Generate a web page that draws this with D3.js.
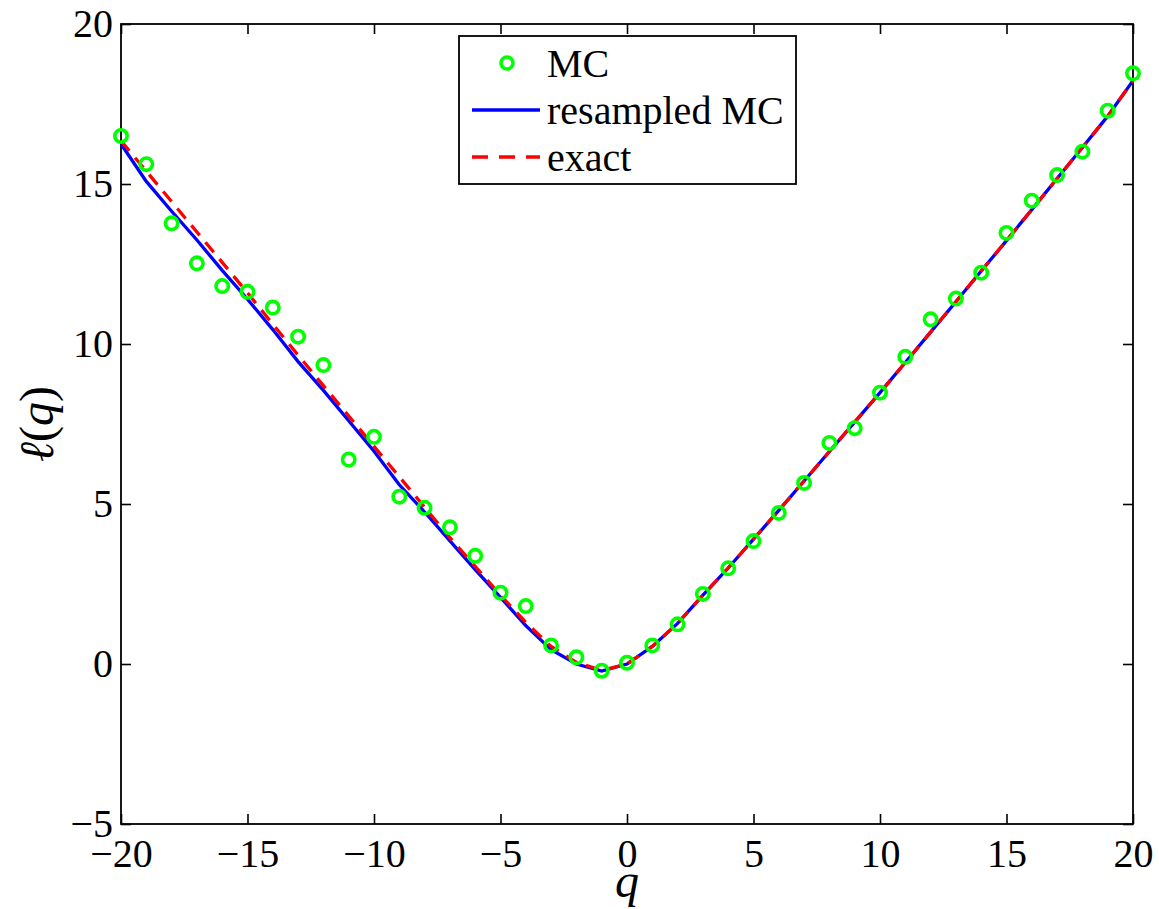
<!DOCTYPE html>
<html>
<head>
<meta charset="utf-8">
<script src="https://cdn.jsdelivr.net/npm/d3@7"></script>
<style>
  body { margin: 0; background: #fff; }
</style>
</head>
<body>
<div id="chart"></div>
<script>
// q grid and the three series
const qValues = [-20, -19, -18, -17, -16, -15, -14, -13, -12, -11, -10, -9, -8, -7, -6, -5, -4, -3, -2, -1,
  0, 1, 2, 3, 4, 5, 6, 7, 8, 9, 10, 11, 12, 13, 14, 15, 16, 17, 18, 19, 20];

const mcValues = [16.5, 15.62, 13.77, 12.52, 11.81, 11.63, 11.14, 10.23, 9.34, 6.39, 7.1, 5.23, 4.88, 4.27, 3.38, 2.23, 1.81, 0.58, 0.21, -0.21,
  0.04, 0.58, 1.24, 2.19, 2.99, 3.84, 4.72, 5.66, 6.91, 7.37, 8.48, 9.6, 10.77, 11.42, 12.23, 13.47, 14.48, 15.28, 16.01, 17.29, 18.46];

const resampledValues = [16.25, 15.08, 14.15, 13.25, 12.3, 11.4, 10.45, 9.45, 8.55, 7.6, 6.65, 5.6, 4.75, 3.85, 2.95, 2.08, 1.2, 0.45, 0.0, -0.22,
  0.0, 0.55, 1.27, 2.15, 3.0, 3.9, 4.8, 5.72, 6.64, 7.56, 8.48, 9.42, 10.37, 11.32, 12.28, 13.23, 14.2, 15.17, 16.14, 17.12, 18.23];

const exactValues = [16.35, 15.4, 14.45, 13.5, 12.55, 11.6, 10.62, 9.65, 8.7, 7.75, 6.8, 5.85, 4.9, 3.95, 3.05, 2.15, 1.3, 0.55, 0.05, -0.2,
  0.0, 0.55, 1.27, 2.15, 3.0, 3.9, 4.8, 5.72, 6.64, 7.56, 8.48, 9.42, 10.37, 11.32, 12.28, 13.23, 14.2, 15.17, 16.14, 17.12, 18.23];

const xTicks = [-20, -15, -10, -5, 0, 5, 10, 15, 20];
const yTicks = [-5, 0, 5, 10, 15, 20];
const legendLabels = ["MC", "resampled MC", "exact"];

const W = 1159, H = 909;
const margin = { top: 24, right: 26, bottom: 85, left: 121 };
const serif = "Liberation Serif";

const svg = d3.select("#chart").append("svg")
  .attr("width", W)
  .attr("height", H);

const x = d3.scaleLinear().domain([-20, 20]).range([margin.left, W - margin.right]);
const y = d3.scaleLinear().domain([-5, 20]).range([H - margin.bottom, margin.top]);

// axes, ticks pointing inward on all four sides
svg.append("g")
  .attr("transform", `translate(0,${y(-5)})`)
  .call(d3.axisBottom(x).tickValues(xTicks).tickSize(-10).tickPadding(15));
svg.append("g")
  .attr("transform", `translate(${x(-20)},0)`)
  .call(d3.axisLeft(y).tickValues(yTicks).tickSize(-10).tickPadding(8));
svg.append("g")
  .attr("transform", `translate(0,${y(20)})`)
  .call(d3.axisTop(x).tickValues(xTicks).tickSize(-10).tickFormat(""));
svg.append("g")
  .attr("transform", `translate(${x(20)},0)`)
  .call(d3.axisRight(y).tickValues(yTicks).tickSize(-10).tickFormat(""));

svg.selectAll(".domain").remove();
svg.selectAll(".tick line").attr("stroke", "#000").attr("stroke-width", 1.6);
svg.selectAll(".tick text")
  .attr("fill", "#000")
  .style("font-family", serif)
  .style("font-size", "40px");

svg.append("rect")
  .attr("x", x(-20))
  .attr("y", y(20))
  .attr("width", x(20) - x(-20))
  .attr("height", y(-5) - y(20))
  .attr("fill", "none")
  .attr("stroke", "#000")
  .attr("stroke-width", 1.8);

// curves
const line = d3.line()
  .x((d, i) => x(qValues[i]))
  .y(d => y(d));

svg.append("path")
  .datum(resampledValues)
  .attr("d", line)
  .attr("fill", "none")
  .attr("stroke", "#0000ff")
  .attr("stroke-width", 3.3);

svg.append("path")
  .datum(exactValues)
  .attr("d", line)
  .attr("fill", "none")
  .attr("stroke", "#ff0000")
  .attr("stroke-width", 3.3)
  .attr("stroke-dasharray", "13,9");

svg.append("g")
  .selectAll("circle")
  .data(mcValues)
  .enter()
  .append("circle")
  .attr("cx", (d, i) => x(qValues[i]))
  .attr("cy", d => y(d))
  .attr("r", 6.2)
  .attr("fill", "none")
  .attr("stroke", "#00ff00")
  .attr("stroke-width", 3.6);

// axis labels
svg.append("text")
  .attr("x", x(0))
  .attr("y", 897)
  .attr("text-anchor", "middle")
  .style("font-family", serif)
  .style("font-size", "48px")
  .style("font-style", "italic")
  .text("q");

const ylab = svg.append("text")
  .attr("transform", `translate(53,${(y(20) + y(-5)) / 2}) rotate(-90)`)
  .attr("text-anchor", "middle")
  .style("font-family", serif)
  .style("font-size", "48px");
ylab.append("tspan").style("font-style", "italic").text("\u2113");
ylab.append("tspan").text("(");
ylab.append("tspan").style("font-style", "italic").text("q");
ylab.append("tspan").text(")");

// legend
const lg = svg.append("g").attr("transform", "translate(459,36)");
lg.append("rect")
  .attr("width", 337)
  .attr("height", 148)
  .attr("fill", "#fff")
  .attr("stroke", "#000")
  .attr("stroke-width", 1.8);

const rowY = [27, 74, 121];
lg.append("circle")
  .attr("cx", 48).attr("cy", rowY[0]).attr("r", 6)
  .attr("fill", "none").attr("stroke", "#00ff00").attr("stroke-width", 3.6);
lg.append("line")
  .attr("x1", 13).attr("x2", 81).attr("y1", rowY[1]).attr("y2", rowY[1])
  .attr("stroke", "#0000ff").attr("stroke-width", 3.3);
lg.append("line")
  .attr("x1", 13).attr("x2", 81).attr("y1", rowY[2]).attr("y2", rowY[2])
  .attr("stroke", "#ff0000").attr("stroke-width", 3.3)
  .attr("stroke-dasharray", "16,11");

lg.selectAll("text.lab")
  .data(legendLabels)
  .enter()
  .append("text")
  .attr("class", "lab")
  .attr("x", 88)
  .attr("y", (d, i) => rowY[i] + 14)
  .style("font-family", serif)
  .style("font-size", "40px")
  .text(d => d);
</script>
</body>
</html>
